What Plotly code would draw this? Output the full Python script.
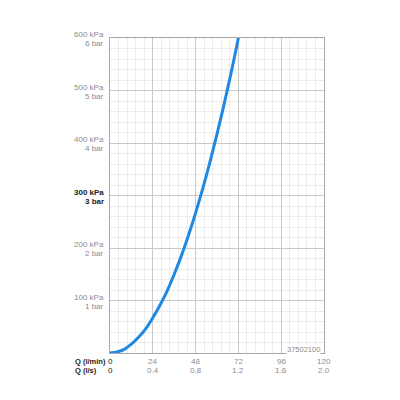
import plotly.graph_objects as go

# Durchfluss Q (l/min) und Druck (kPa)
flow_lpm = [0, 4, 8, 12, 16, 20, 24, 28, 32, 36, 40, 44, 48, 52, 56, 60, 64, 68, 72]
pressure_kpa = [0, 2, 7, 17, 30, 46, 67, 91, 118, 150, 185, 224, 267, 313, 363, 417, 474, 535, 600]

x_ticks = [0, 24, 48, 72, 96, 120]
x_ticks_ls = ["0", "0.4", "0.8", "1.2", "1.6", "2.0"]
y_ticks = [100, 200, 300, 400, 500, 600]
y_kpa = ["100 kPa", "200 kPa", "300 kPa", "400 kPa", "500 kPa", "600 kPa"]
y_bar = ["1 bar", "2 bar", "3 bar", "4 bar", "5 bar", "6 bar"]

article = "37502100"

GRAY = "#8c8c8c"
DARK = "#222222"
FONT = "Liberation Sans"

fig = go.Figure()
fig.add_trace(go.Scatter(
    x=flow_lpm, y=pressure_kpa, mode="lines",
    line=dict(color="#1e88e2", width=3, shape="spline"),
    showlegend=False, hoverinfo="skip",
))

fig.update_xaxes(
    range=[0, 120], tickmode="array", tickvals=x_ticks, showticklabels=False,
    showgrid=True, gridcolor="#c9c9c9", gridwidth=1,
    minor=dict(dtick=4.8, showgrid=True, gridcolor="#ececec", gridwidth=1),
    showline=True, linecolor="#a8a8a8", linewidth=1, mirror=True,
    zeroline=False, ticks="",
)
fig.update_yaxes(
    range=[0, 600], tickmode="array", tickvals=[0] + y_ticks, showticklabels=False,
    showgrid=True, gridcolor="#c9c9c9", gridwidth=1,
    minor=dict(dtick=20, showgrid=True, gridcolor="#ececec", gridwidth=1),
    showline=True, linecolor="#a8a8a8", linewidth=1, mirror=True,
    zeroline=False, ticks="",
)

# x-Beschriftungen: zwei Zeilen (l/min und l/s)
for v, s in zip(x_ticks, x_ticks_ls):
    col = DARK if v == 0 else GRAY
    for txt, dy in [(str(v), -8.5), (s, -17.5)]:
        fig.add_annotation(
            text=txt, xref="x", yref="paper", x=v, y=0, yshift=dy,
            xanchor="center", yanchor="middle", showarrow=False,
            font=dict(family=FONT, size=8, color=col),
        )

# y-Beschriftungen: kPa oben, bar darunter
for v, k, b in zip(y_ticks, y_kpa, y_bar):
    bold = v == 300
    col = DARK if bold else GRAY
    for txt, dy in [(k, 3.5), (b, -5.5)]:
        fig.add_annotation(
            text=f"<b>{txt}</b>" if bold else txt,
            xref="paper", yref="y", x=0, y=v, xshift=-4, yshift=dy,
            xanchor="right", yanchor="middle", showarrow=False,
            font=dict(family=FONT, size=8, color=col),
        )

# Achsentitel links der Tick-Zeilen
for txt, dy in [("Q (l/min)", -8.5), ("Q (l/s)", -17.5)]:
    fig.add_annotation(
        text=f"<b>{txt}</b>", xref="paper", yref="paper", x=0, y=0,
        xshift=-37, yshift=dy,
        xanchor="left", yanchor="middle", showarrow=False,
        font=dict(family=FONT, size=7.5, color=DARK),
    )

fig.add_annotation(
    text=article, xref="paper", yref="paper", x=1, y=0, xshift=-3, yshift=3.5,
    xanchor="right", yanchor="middle", showarrow=False,
    bgcolor="white", borderpad=0,
    font=dict(family=FONT, size=7.5, color=GRAY),
)

fig.update_layout(
    width=400, height=400,
    margin=dict(l=102, r=84, t=30, b=55),
    paper_bgcolor="white", plot_bgcolor="white",
)

fig.write_html("out.html")
